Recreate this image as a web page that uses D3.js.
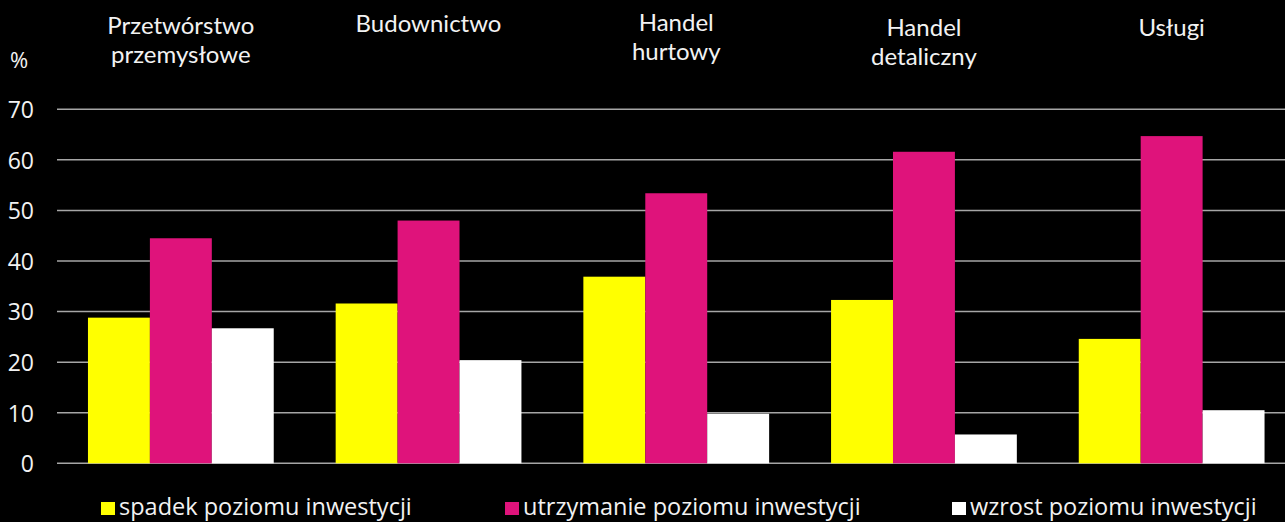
<!DOCTYPE html>
<html><head><meta charset="utf-8">
<script src="https://cdn.jsdelivr.net/npm/d3@7"></script>
<style>
html,body{margin:0;padding:0;background:#000;}
svg{display:block;}
text{font-family:"Open Sans","Noto Sans",sans-serif;fill:#f2f2f2;}
text.cat{font-family:Lato,"Open Sans",sans-serif;}
</style></head>
<body>
<svg id="chart" width="1285" height="522"></svg>
<script>
const categories = [["Przetwórstwo","przemysłowe"],["Budownictwo"],["Handel","hurtowy"],["Handel","detaliczny"],["Usługi"]];
const categoryKeys = ["Przetwórstwo przemysłowe","Budownictwo","Handel hurtowy","Handel detaliczny","Usługi"];
const seriesNames = ["spadek poziomu inwestycji","utrzymanie poziomu inwestycji","wzrost poziomu inwestycji"];
const spadek = [28.8, 31.6, 36.9, 32.3, 24.6];
const utrzymanie = [44.5, 48.0, 53.4, 61.6, 64.7];
const wzrost = [26.7, 20.4, 9.8, 5.7, 10.5];
const yTicks = [0,10,20,30,40,50,60,70];
const colors = ["#ffff00","#df137b","#ffffff"];
const labelBaselines = [[34,63],[32],[31,60],[36,65],[36]];

const svg = d3.select("#chart");
svg.append("rect").attr("width",1285).attr("height",522).attr("fill","#000");

const x0 = d3.scaleBand().domain(categoryKeys).range([57,1295.5]).paddingInner(0.25).paddingOuter(0.125);
const x1 = d3.scaleBand().domain(seriesNames).range([0,x0.bandwidth()]);
const y = d3.scaleLinear().domain([0,70]).range([463.3,109.3]);

// gridlines
svg.append("g").selectAll("line").data(yTicks).join("line")
  .attr("x1",57).attr("x2",1285)
  .attr("y1",d=>y(d)).attr("y2",d=>y(d))
  .attr("stroke","#a6a6a6").attr("stroke-width",1.5);

// y axis labels
const yAxis = d3.axisLeft(y).tickValues(yTicks).tickSize(0).tickPadding(0);
const ga = svg.append("g").attr("transform","translate(34,0)").call(yAxis);
ga.select(".domain").remove();
ga.selectAll("text").attr("font-size",23).attr("fill","#f2f2f2")
  .style("font-family",'"Open Sans","Noto Sans",sans-serif').attr("dy","0.36em");
svg.append("text").attr("x",10).attr("y",68).attr("font-size",22).text("%");

// bars
const data = [spadek, utrzymanie, wzrost];
const groups = svg.append("g").selectAll("g").data(categoryKeys).join("g")
  .attr("transform",d=>`translate(${x0(d)},0)`);
groups.selectAll("rect").data((d,i)=>seriesNames.map((s,j)=>({s,v:data[j][i],c:colors[j]}))).join("rect")
  .attr("x",d=>x1(d.s)).attr("width",x1.bandwidth())
  .attr("y",d=>y(d.v)).attr("height",d=>y(0)-y(d.v))
  .attr("fill",d=>d.c);

// category labels
categories.forEach((lines,i)=>{
  const cx = x0(categoryKeys[i]) + x0.bandwidth()/2;
  lines.forEach((t,k)=>{
    svg.append("text").attr("class","cat").attr("x",cx).attr("y",labelBaselines[i][k])
      .attr("text-anchor","middle").attr("font-size",24).text(t);
  });
});

// legend
const legX = [101,505,952];
seriesNames.forEach((s,i)=>{
  svg.append("rect").attr("x",legX[i]).attr("y",502).attr("width",14).attr("height",13).attr("fill",colors[i]);
  svg.append("text").attr("x",legX[i]+18).attr("y",515).attr("font-size",23.5).text(s);
});
</script>
</body></html>
